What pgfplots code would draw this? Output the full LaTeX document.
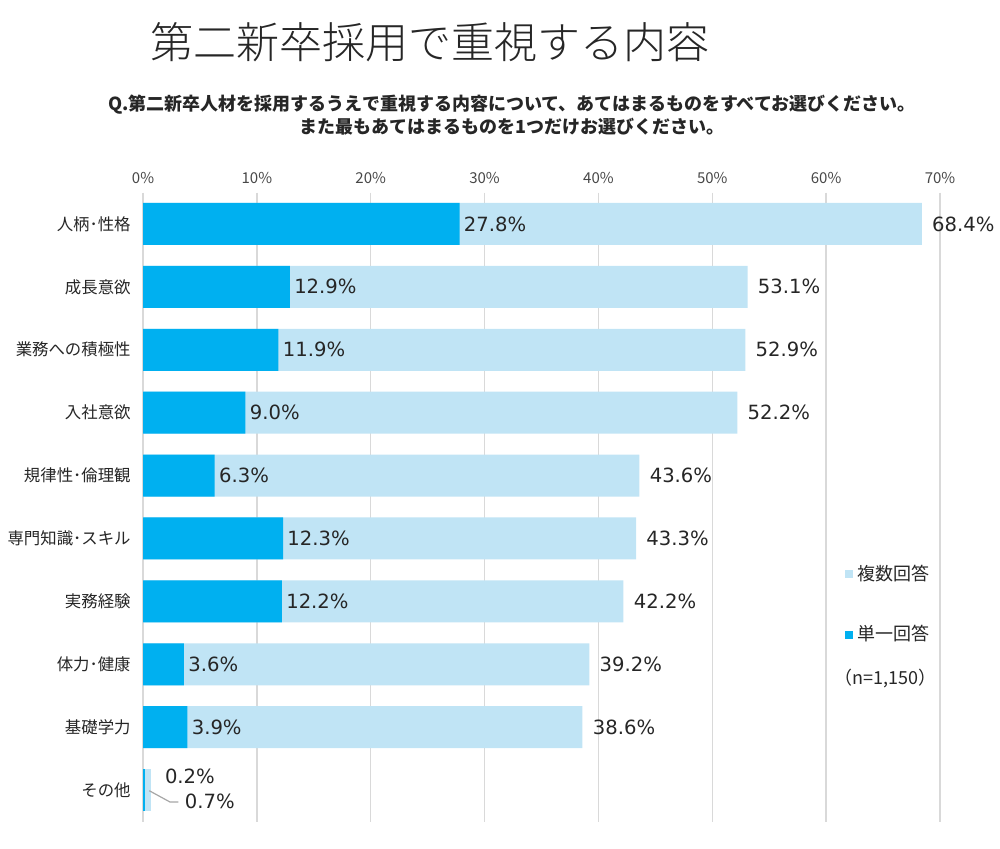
\documentclass[border=0pt]{standalone}
\usepackage{pgfplots}
\pgfplotsset{compat=1.18}
\usepackage{pgfplotstable}
\usepackage{fontspec}
\setmainfont{Noto Sans CJK JP}
\newfontfamily\numfont{DejaVu Sans}
\newfontfamily\lightfont{Noto Sans CJK JP Light}

\definecolor{single}{HTML}{00B0F0}
\definecolor{multi}{HTML}{C0E4F5}
\definecolor{gridc}{HTML}{D9D9D9}
\definecolor{txt}{HTML}{262626}

% idx: row from the top; multi = 複数回答, single = 単一回答 (in %)
\pgfplotstableread{
idx multi single
0 68.4 27.8
1 53.1 12.9
2 52.9 11.9
3 52.2 9.0
4 43.6 6.3
5 43.3 12.3
6 42.2 12.2
7 39.2 3.6
8 38.6 3.9
}\maindata
\pgfplotstableread{
idx multi single
9 0.7 0.2
}\otherdata

\begin{document}
\begin{tikzpicture}
% page frame
\path (0pt,0pt) rectangle (500pt,-424.5pt);

% titles
\node[text=txt, font=\lightfont\fontsize{21.5}{24}\selectfont] at (215pt,-21pt) {第二新卒採用で重視する内容};
\node[text=txt, font=\bfseries\fontsize{9}{11.5}\selectfont, align=center] at (256pt,-57.5pt)
  {Q.第二新卒人材を採用するうえで重視する内容について、あてはまるものをすべてお選びください。\\
   また最もあてはまるものを1つだけお選びください。};

\begin{axis}[
  at={(71.5pt,-410.75pt)}, anchor=south west,
  scale only axis, width=398.5pt, height=314.5pt,
  xmin=0, xmax=70, ymin=-0.5, ymax=9.5,
  y dir=reverse,
  axis line style={draw=none},
  major tick length=0pt,
  xtick={0,10,...,70},
  xticklabel pos=upper,
  xticklabel={\pgfmathprintnumber{\tick}\%},
  xticklabel style={font=\fontsize{7.5}{9}\selectfont, text=txt!85, yshift=1pt},
  xmajorgrids, grid style={gridc, line width=0.75pt},
  ytick={0,...,9},
  yticklabels={人柄･性格,成長意欲,業務への積極性,入社意欲,規律性･倫理観,専門知識･スキル,実務経験,体力･健康,基礎学力,その他},
  yticklabel style={font=\fontsize{8.2}{10}\selectfont, text=txt, inner sep=0pt, xshift=-6pt},
  /pgf/number format/assume math mode=true,
  legend style={at={(0.8807,0.345)}, anchor=west, draw=none, fill=none,
    font=\fontsize{9}{10}\selectfont, text=txt, row sep=17pt, inner sep=0pt},
  legend cell align=left,
  legend image code/.code={\fill[#1, draw=none] (0pt,-2pt) rectangle (4pt,2pt);},
  clip=false,
]
% 複数回答
\addplot[xbar, bar shift=0pt, bar width=21pt, fill=multi, draw=none, point meta=x,
  nodes near coords={\pgfmathprintnumber[fixed,fixed zerofill,precision=1]{\pgfplotspointmeta}\%},
  nodes near coords style={anchor=west, inner sep=0pt, xshift=5pt, font=\numfont\fontsize{9.8}{12}\selectfont, text=txt}]
  table[x=multi, y=idx]{\maindata};
\addlegendentry{複数回答}
% 単一回答
\addplot[xbar, bar shift=0pt, bar width=21pt, fill=single, draw=none, point meta=x,
  nodes near coords={\pgfmathprintnumber[fixed,fixed zerofill,precision=1]{\pgfplotspointmeta}\%},
  nodes near coords style={anchor=west, inner sep=0pt, xshift=2pt, font=\numfont\fontsize{9.8}{12}\selectfont, text=txt}]
  table[x=single, y=idx]{\maindata};
\addlegendentry{単一回答}
% その他 (labels set off to the side)
\addplot[xbar, bar shift=0pt, bar width=21pt, fill=multi, draw=none, forget plot]
  table[x=multi, y=idx]{\otherdata};
\addplot[xbar, bar shift=0pt, bar width=21pt, fill=single, draw=none, forget plot]
  table[x=single, y=idx]{\otherdata};
\draw[gray!70, line width=0.6pt] (axis cs:0.55,9.01) -- (axis cs:2.37,9.19) -- (axis cs:3.1,9.19);
\node[anchor=west, inner sep=0pt, font=\numfont\fontsize{9.8}{12}\selectfont, text=txt] at (axis cs:1.9,8.79) {0.2\%};
\node[anchor=west, inner sep=0pt, font=\numfont\fontsize{9.8}{12}\selectfont, text=txt] at (axis cs:3.65,9.18) {0.7\%};

\node[font=\fontsize{9}{10}\selectfont, text=txt] at (axis cs:65.2,7.22) {（n=1,150）};
\end{axis}
\end{tikzpicture}
\end{document}
